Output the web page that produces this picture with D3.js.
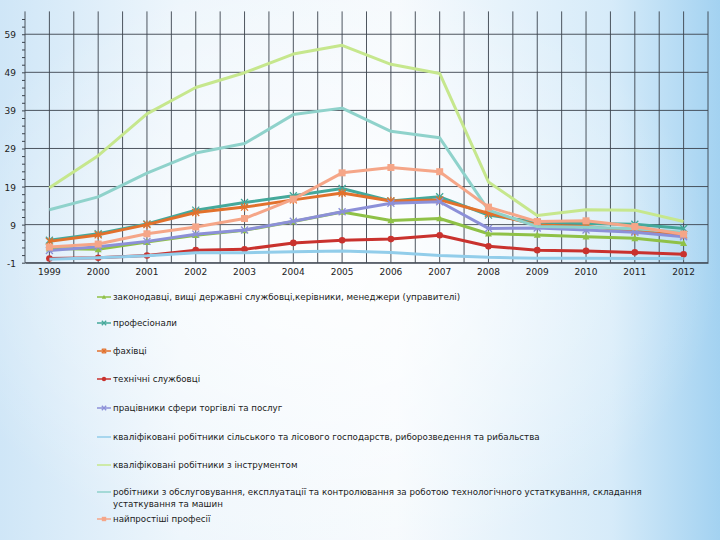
<!DOCTYPE html>
<html>
<head>
<meta charset="utf-8">
<script src="https://cdn.jsdelivr.net/npm/d3@7"></script>
<style>
  html, body { margin: 0; padding: 0; }
  svg { display: block; }
  text { font-family: "DejaVu Sans", sans-serif; }
</style>
</head>
<body>
<div id="chart"></div>
<script>
// data
var years = ["1999", "2000", "2001", "2002", "2003", "2004", "2005", "2006", "2007", "2008", "2009", "2010", "2011", "2012"];
var yTicks = [-1, 9, 19, 29, 39, 49, 59];

var managers     = [2.7, 2.5, 4.4, 6.2, 7.5, 9.8, 12.3, 10.1, 10.6, 6.6, 6.3, 5.8, 5.4, 4.1];
var professionals = [4.9, 6.6, 9.2, 12.8, 14.8, 16.6, 18.5, 15.2, 16.3, 11.5, 9.6, 9.3, 9.1, 8.0];
var specialists  = [4.6, 6.3, 9.0, 12.2, 13.6, 15.5, 17.3, 15.2, 15.5, 12.0, 8.9, 8.5, 7.3, 6.3];
var clerks       = [0.1, 0.3, 0.9, 2.3, 2.5, 4.2, 4.9, 5.2, 6.2, 3.3, 2.3, 2.1, 1.7, 1.2];
var trade        = [2.2, 3.2, 4.6, 6.5, 7.6, 9.9, 12.4, 14.6, 15.0, 8.0, 8.1, 7.6, 7.0, 5.8];
var agriculture  = [-0.1, 0.3, 0.8, 1.6, 1.6, 1.9, 2.1, 1.7, 0.9, 0.4, 0.2, 0.2, 0.1, 0.1];
var craft        = [18.7, 27.1, 38.1, 45.0, 48.9, 53.8, 56.1, 51.1, 48.7, 20.2, 11.4, 12.9, 12.8, 9.8];
var operators    = [12.9, 16.3, 22.5, 27.8, 30.3, 37.9, 39.6, 33.5, 31.8, 12.8, 8.5, 8.3, 7.9, 7.0];
var elementary   = [3.1, 3.9, 6.6, 8.4, 10.6, 15.7, 22.6, 24.0, 22.9, 13.6, 9.8, 10.0, 8.5, 6.5];

var seriesNames = [
  "законодавці, вищі державні службовці,керівники, менеджери (управителі)",
  "професіонали",
  "фахівці",
  "технічні службовці",
  "працівники сфери торгівлі та послуг",
  "кваліфіковані робітники сільського та лісового господарств, риборозведення та рибальства",
  "кваліфіковані робітники з інструментом",
  "робітники з обслуговування, експлуатації та контролювання за роботою технологічного устаткування, складання|устаткування та машин",
  "найпростіші професії"
];
var seriesValues = [managers, professionals, specialists, clerks, trade, agriculture, craft, operators, elementary];

var colors  = ["#8fc147", "#45a99b", "#e2712c", "#c9322e", "#8c90d8", "#92cdea", "#c6e78d", "#8fd2cb", "#f5a688"];
var markers = ["triangle", "cross", "star", "circle", "cross", "none", "none", "none", "square"];

var svgWidth = 720;
var svgHeight = 540;

var svg = d3.select("#chart")
  .append("svg")
  .attr("width", svgWidth)
  .attr("height", svgHeight);

// slide background
var defs = svg.append("defs");
var lg = defs.append("linearGradient").attr("id", "bg").attr("x1", "0").attr("x2", "1").attr("y1", "0").attr("y2", "0");
lg.append("stop").attr("offset", "0%").attr("stop-color", "#cfe6f7");
lg.append("stop").attr("offset", "25%").attr("stop-color", "#eef6fc");
lg.append("stop").attr("offset", "55%").attr("stop-color", "#f6fafd");
lg.append("stop").attr("offset", "85%").attr("stop-color", "#d6ebf9");
lg.append("stop").attr("offset", "100%").attr("stop-color", "#a3d2f1");
var rg = defs.append("radialGradient").attr("id", "glow").attr("cx", "0.45").attr("cy", "0.5").attr("r", "0.55");
rg.append("stop").attr("offset", "0%").attr("stop-color", "#ffffff").attr("stop-opacity", 0.85);
rg.append("stop").attr("offset", "100%").attr("stop-color", "#ffffff").attr("stop-opacity", 0);

svg.append("rect").attr("width", svgWidth).attr("height", svgHeight).attr("fill", "url(#bg)");
svg.append("rect").attr("width", svgWidth).attr("height", svgHeight).attr("fill", "url(#glow)");

var plot = { left: 25, right: 708, top: 11.4, bottom: 262.7 };

var x = d3.scaleBand()
  .domain(years)
  .range([plot.left, plot.right]);

var y = d3.scaleLinear()
  .domain([-1, 65])
  .range([plot.bottom, plot.top]);

var grid = svg.append("g").attr("stroke", "#3b434d").attr("stroke-width", 0.9);

// vertical grid: category centres and boundaries
var vLines = [];
years.forEach(function(d) {
  vLines.push(x(d));
  vLines.push(x(d) + x.bandwidth() / 2);
});
vLines.push(plot.right);
grid.selectAll(".v")
  .data(vLines)
  .enter()
  .append("line")
  .attr("x1", d => d).attr("x2", d => d)
  .attr("y1", plot.top).attr("y2", plot.bottom);

grid.selectAll(".h")
  .data(yTicks)
  .enter()
  .append("line")
  .attr("x1", plot.left).attr("x2", plot.right)
  .attr("y1", d => y(d)).attr("y2", d => y(d));

// y axis with minor ticks
var leftAxis = d3.axisLeft(y).tickValues(d3.range(-1, 65, 2)).tickSize(3).tickFormat("");
svg.append("g")
  .attr("transform", `translate(${plot.left}, 0)`)
  .call(leftAxis)
  .call(g => g.select(".domain").remove())
  .call(g => g.selectAll("line").attr("stroke", "#3b434d"));

svg.append("g")
  .selectAll("text")
  .data(yTicks)
  .enter()
  .append("text")
  .attr("x", 16)
  .attr("y", d => y(d) + 4)
  .attr("text-anchor", "end")
  .attr("font-size", 9)
  .attr("fill", "#222")
  .text(d => d);

var bottomAxis = d3.axisBottom(x).tickSize(0).tickPadding(6);
svg.append("g")
  .attr("transform", `translate(0, ${plot.bottom})`)
  .call(bottomAxis)
  .call(g => g.select(".domain").attr("stroke", "#3b434d"))
  .call(g => g.selectAll("text").attr("font-size", 9).attr("fill", "#222").attr("font-family", "DejaVu Sans, sans-serif"));

// markers
function drawMarker(g, type, cx, cy, color, s) {
  if (type === "triangle") {
    g.append("path").attr("d", `M${cx},${cy - s}L${cx + s},${cy + s * 0.8}L${cx - s},${cy + s * 0.8}Z`).attr("fill", color);
  } else if (type === "circle") {
    g.append("circle").attr("cx", cx).attr("cy", cy).attr("r", s).attr("fill", color);
  } else if (type === "square") {
    g.append("rect").attr("x", cx - s).attr("y", cy - s).attr("width", 2 * s).attr("height", 2 * s).attr("fill", color);
  } else if (type === "cross" || type === "star") {
    g.append("path").attr("d", `M${cx - s},${cy - s}L${cx + s},${cy + s}M${cx - s},${cy + s}L${cx + s},${cy - s}`)
      .attr("stroke", color).attr("stroke-width", 1.3);
    if (type === "star") {
      g.append("path").attr("d", `M${cx},${cy - s * 1.2}V${cy + s * 1.2}`).attr("stroke", color).attr("stroke-width", 1.3);
    }
  }
}

var line = d3.line()
  .x((d, i) => x(years[i]) + x.bandwidth() / 2)
  .y(d => y(d));

var lines = svg.append("g");
seriesValues.forEach(function(vals, k) {
  var g = lines.append("g");
  g.append("path")
    .datum(vals)
    .attr("d", line)
    .attr("fill", "none")
    .attr("stroke", colors[k])
    .attr("stroke-width", 3)
    .attr("stroke-linejoin", "round");
  vals.forEach(function(v, i) {
    drawMarker(g, markers[k], x(years[i]) + x.bandwidth() / 2, y(v), colors[k], markers[k] === "circle" ? 3.3 : 3.5);
  });
});

// legend
var legendY = [297, 323, 351, 379, 408, 437, 465, 492, 519];
var legend = svg.append("g");
seriesNames.forEach(function(name, k) {
  var ly = legendY[k];
  legend.append("line")
    .attr("x1", 97).attr("x2", 111)
    .attr("y1", ly).attr("y2", ly)
    .attr("stroke", colors[k]).attr("stroke-width", 1.5);
  drawMarker(legend, markers[k], 104, ly, colors[k], 2.2);
  name.split("|").forEach(function(part, j) {
    legend.append("text")
      .attr("x", 113)
      .attr("y", ly + 3 + j * 12)
      .attr("font-size", 8.7)
      .attr("fill", "#1a1a1a")
      .text(part);
  });
});
</script>
</body>
</html>
